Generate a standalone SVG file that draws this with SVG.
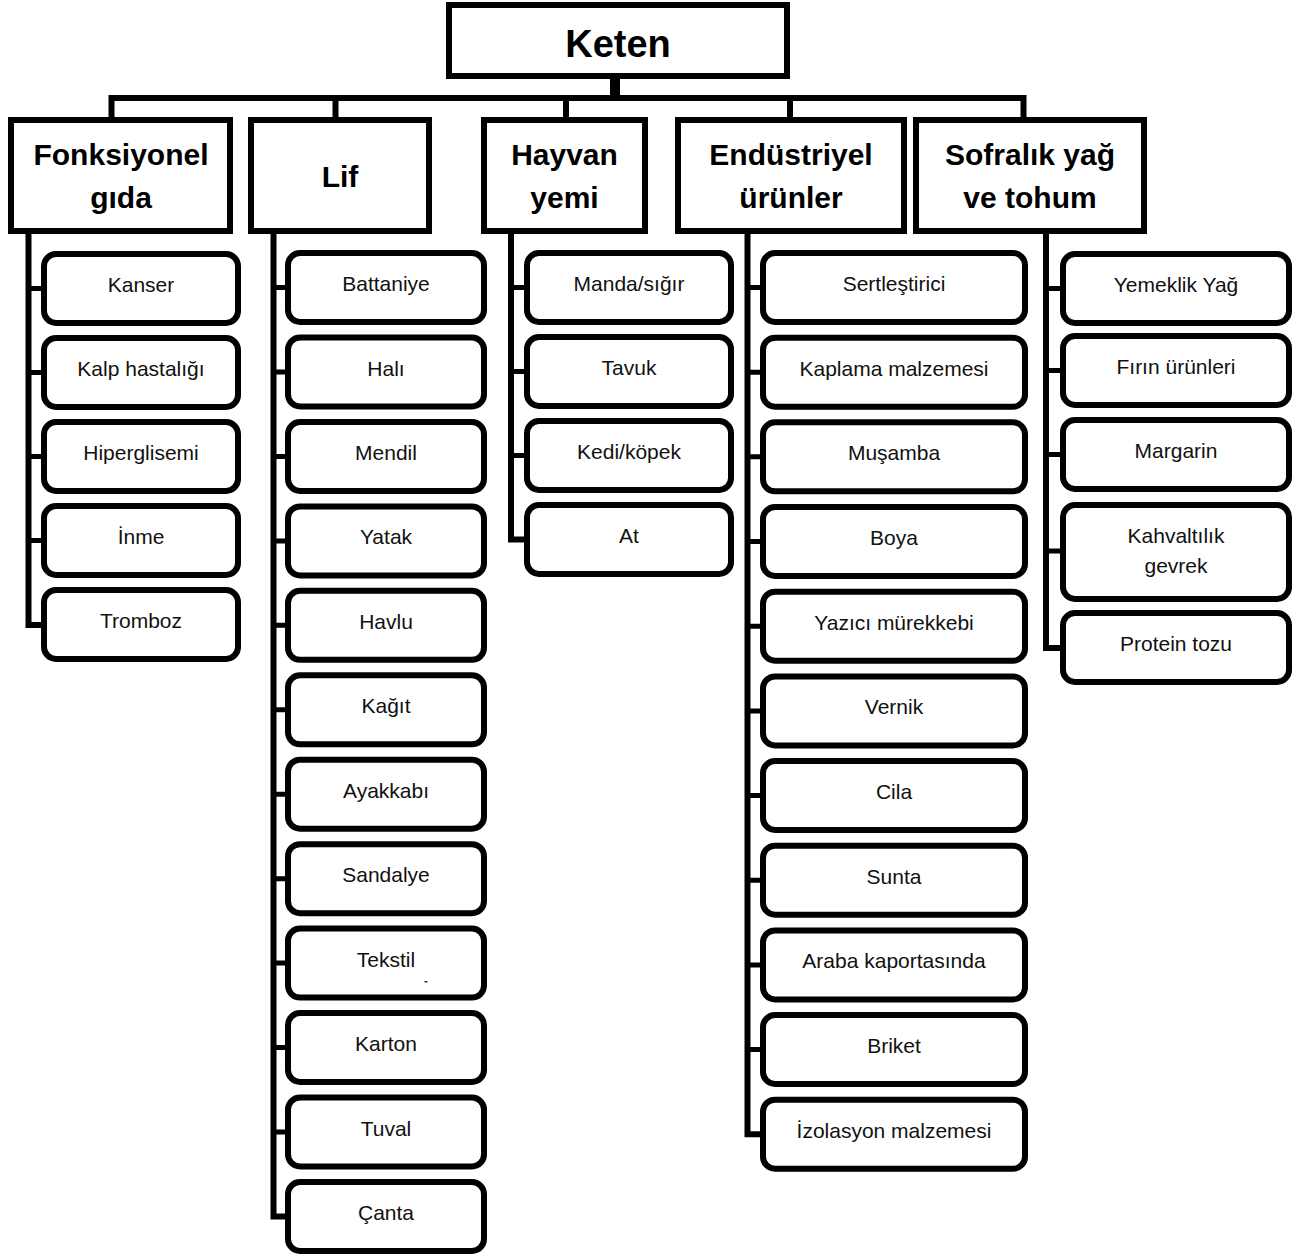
<svg xmlns="http://www.w3.org/2000/svg" width="1300" height="1255" viewBox="0 0 1300 1255">
<style>
.root{fill:#fff;stroke:#000;stroke-width:6}
.cat{fill:#fff;stroke:#000;stroke-width:6}
.leaf{fill:#fff;stroke:#000;stroke-width:6}
.conn{fill:none;stroke:#000;stroke-width:6;stroke-linejoin:miter;stroke-linecap:butt}
.tick{fill:none;stroke:#000;stroke-width:5}
.t0{font-family:"Liberation Sans",Arial,sans-serif;font-weight:bold;font-size:38px;text-anchor:middle;fill:#000}
.t1{font-family:"Liberation Sans",Arial,sans-serif;font-weight:bold;font-size:30px;text-anchor:middle;fill:#000}
.t2{font-family:"Liberation Sans",Arial,sans-serif;font-size:21px;text-anchor:middle;fill:#111}
</style>
<rect width="1300" height="1255" fill="#fff"/>
<g id="connectors">
<rect x="610" y="76" width="10" height="24" fill="#000"/>
<path class="conn" d="M111.5 120 V98 H1023.5 V120"/>
<path class="conn" d="M335.5 98 V120 M566 98 V120 M790 98 V120"/>
<!-- Fonksiyonel spine -->
<path class="conn" d="M28.5 231 V625 H44"/>
<path class="tick" d="M28.5 288.5 H44 M28.5 372.5 H44 M28.5 456.5 H44 M28.5 540.5 H44"/>
<!-- Lif spine -->
<path class="conn" d="M273.5 231 V1216.5 H288"/>
<path class="tick" d="M273.5 287.5 H288 M273.5 372 H288 M273.5 456.5 H288 M273.5 541 H288 M273.5 625.3 H288 M273.5 709.8 H288 M273.5 794.2 H288 M273.5 878.7 H288 M273.5 963.1 H288 M273.5 1047.5 H288 M273.5 1132 H288"/>
<!-- Hayvan spine -->
<path class="conn" d="M511 231 V539.5 H527"/>
<path class="tick" d="M511 287.5 H527 M511 371.5 H527 M511 455.5 H527"/>
<!-- Endustriyel spine -->
<path class="conn" d="M747.5 231 V1134.2 H763"/>
<path class="tick" d="M747.5 287.5 H763 M747.5 372.2 H763 M747.5 456.8 H763 M747.5 541.5 H763 M747.5 626.2 H763 M747.5 710.9 H763 M747.5 795.5 H763 M747.5 880.2 H763 M747.5 964.9 H763 M747.5 1049.5 H763"/>
<!-- Sofralik spine -->
<path class="conn" d="M1046 231 V648 H1063"/>
<path class="tick" d="M1046 288.5 H1063 M1046 370.5 H1063 M1046 454.5 H1063 M1046 551 H1063"/>
</g>
<g id="keten">
<rect class="root" x="449" y="5" width="338" height="71"/>
<text class="t0" x="618" y="57">Keten</text>
</g>
<g id="fonksiyonel">
<rect class="cat" x="11" y="120" width="219" height="111"/>
<text class="t1" x="121" y="165">Fonksiyonel</text>
<text class="t1" x="121" y="208">gıda</text>
</g>
<g id="lif">
<rect class="cat" x="251" y="120" width="178" height="111"/>
<text class="t1" x="340" y="187">Lif</text>
</g>
<g id="hayvan">
<rect class="cat" x="484" y="120" width="161" height="111"/>
<text class="t1" x="564.5" y="165">Hayvan</text>
<text class="t1" x="564.5" y="208">yemi</text>
</g>
<g id="endustriyel">
<rect class="cat" x="678" y="120" width="226" height="111"/>
<text class="t1" x="791" y="165">Endüstriyel</text>
<text class="t1" x="791" y="208">ürünler</text>
</g>
<g id="sofralik">
<rect class="cat" x="916" y="120" width="228" height="111"/>
<text class="t1" x="1030" y="165">Sofralık yağ</text>
<text class="t1" x="1030" y="208">ve tohum</text>
</g>
<!-- Fonksiyonel children -->
<g id="kanser"><rect class="leaf" x="44" y="254" width="194" height="69" rx="12"/><text class="t2" x="141" y="292">Kanser</text></g>
<g id="kalp"><rect class="leaf" x="44" y="338" width="194" height="69" rx="12"/><text class="t2" x="141" y="376">Kalp hastalığı</text></g>
<g id="hiperglisemi"><rect class="leaf" x="44" y="422" width="194" height="69" rx="12"/><text class="t2" x="141" y="460">Hiperglisemi</text></g>
<g id="inme"><rect class="leaf" x="44" y="506" width="194" height="69" rx="12"/><text class="t2" x="141" y="544">İnme</text></g>
<g id="tromboz"><rect class="leaf" x="44" y="590" width="194" height="69" rx="12"/><text class="t2" x="141" y="628">Tromboz</text></g>
<!-- Lif children -->
<g id="battaniye"><rect class="leaf" x="288" y="253" width="196" height="69" rx="12"/><text class="t2" x="386" y="291">Battaniye</text></g>
<g id="hali"><rect class="leaf" x="288" y="337.5" width="196" height="69" rx="12"/><text class="t2" x="386" y="375.5">Halı</text></g>
<g id="mendil"><rect class="leaf" x="288" y="422" width="196" height="69" rx="12"/><text class="t2" x="386" y="460">Mendil</text></g>
<g id="yatak"><rect class="leaf" x="288" y="506.4" width="196" height="69" rx="12"/><text class="t2" x="386" y="544.4">Yatak</text></g>
<g id="havlu"><rect class="leaf" x="288" y="590.8" width="196" height="69" rx="12"/><text class="t2" x="386" y="628.8">Havlu</text></g>
<g id="kagit"><rect class="leaf" x="288" y="675.3" width="196" height="69" rx="12"/><text class="t2" x="386" y="713.3">Kağıt</text></g>
<g id="ayakkabi"><rect class="leaf" x="288" y="759.7" width="196" height="69" rx="12"/><text class="t2" x="386" y="797.7">Ayakkabı</text></g>
<g id="sandalye"><rect class="leaf" x="288" y="844.2" width="196" height="69" rx="12"/><text class="t2" x="386" y="882.2">Sandalye</text></g>
<g id="tekstil"><rect class="leaf" x="288" y="928.6" width="196" height="69" rx="12"/><text class="t2" x="386" y="966.6">Tekstil</text><rect x="424.5" y="981" width="3" height="1.5" fill="#333"/></g>
<g id="karton"><rect class="leaf" x="288" y="1013" width="196" height="69" rx="12"/><text class="t2" x="386" y="1051">Karton</text></g>
<g id="tuval"><rect class="leaf" x="288" y="1097.5" width="196" height="69" rx="12"/><text class="t2" x="386" y="1135.5">Tuval</text></g>
<g id="canta"><rect class="leaf" x="288" y="1182" width="196" height="69" rx="12"/><text class="t2" x="386" y="1220">Çanta</text></g>
<!-- Hayvan children -->
<g id="manda"><rect class="leaf" x="527" y="253" width="204" height="69" rx="12"/><text class="t2" x="629" y="291">Manda/sığır</text></g>
<g id="tavuk"><rect class="leaf" x="527" y="337" width="204" height="69" rx="12"/><text class="t2" x="629" y="375">Tavuk</text></g>
<g id="kedi"><rect class="leaf" x="527" y="421" width="204" height="69" rx="12"/><text class="t2" x="629" y="459">Kedi/köpek</text></g>
<g id="at"><rect class="leaf" x="527" y="505" width="204" height="69" rx="12"/><text class="t2" x="629" y="543">At</text></g>
<!-- Endustriyel children -->
<g id="sertlestirici"><rect class="leaf" x="763" y="253" width="262" height="69" rx="12"/><text class="t2" x="894" y="291">Sertleştirici</text></g>
<g id="kaplama"><rect class="leaf" x="763" y="337.7" width="262" height="69" rx="12"/><text class="t2" x="894" y="375.7">Kaplama malzemesi</text></g>
<g id="musamba"><rect class="leaf" x="763" y="422.3" width="262" height="69" rx="12"/><text class="t2" x="894" y="460.3">Muşamba</text></g>
<g id="boya"><rect class="leaf" x="763" y="507" width="262" height="69" rx="12"/><text class="t2" x="894" y="545">Boya</text></g>
<g id="yazici"><rect class="leaf" x="763" y="591.7" width="262" height="69" rx="12"/><text class="t2" x="894" y="629.7">Yazıcı mürekkebi</text></g>
<g id="vernik"><rect class="leaf" x="763" y="676.4" width="262" height="69" rx="12"/><text class="t2" x="894" y="714.4">Vernik</text></g>
<g id="cila"><rect class="leaf" x="763" y="761" width="262" height="69" rx="12"/><text class="t2" x="894" y="799">Cila</text></g>
<g id="sunta"><rect class="leaf" x="763" y="845.7" width="262" height="69" rx="12"/><text class="t2" x="894" y="883.7">Sunta</text></g>
<g id="araba"><rect class="leaf" x="763" y="930.4" width="262" height="69" rx="12"/><text class="t2" x="894" y="968.4">Araba kaportasında</text></g>
<g id="briket"><rect class="leaf" x="763" y="1015" width="262" height="69" rx="12"/><text class="t2" x="894" y="1053">Briket</text></g>
<g id="izolasyon"><rect class="leaf" x="763" y="1099.7" width="262" height="69" rx="12"/><text class="t2" x="894" y="1137.7">İzolasyon malzemesi</text></g>
<!-- Sofralik children -->
<g id="yemeklik"><rect class="leaf" x="1063" y="254" width="226" height="69" rx="12"/><text class="t2" x="1176" y="292">Yemeklik Yağ</text></g>
<g id="firin"><rect class="leaf" x="1063" y="336" width="226" height="69" rx="12"/><text class="t2" x="1176" y="374">Fırın ürünleri</text></g>
<g id="margarin"><rect class="leaf" x="1063" y="420" width="226" height="69" rx="12"/><text class="t2" x="1176" y="458">Margarin</text></g>
<g id="kahvaltilik"><rect class="leaf" x="1063" y="505" width="226" height="94" rx="12"/><text class="t2" x="1176" y="543">Kahvaltılık</text><text class="t2" x="1176" y="573">gevrek</text></g>
<g id="protein"><rect class="leaf" x="1063" y="613" width="226" height="69" rx="12"/><text class="t2" x="1176" y="651">Protein tozu</text></g>
</svg>
